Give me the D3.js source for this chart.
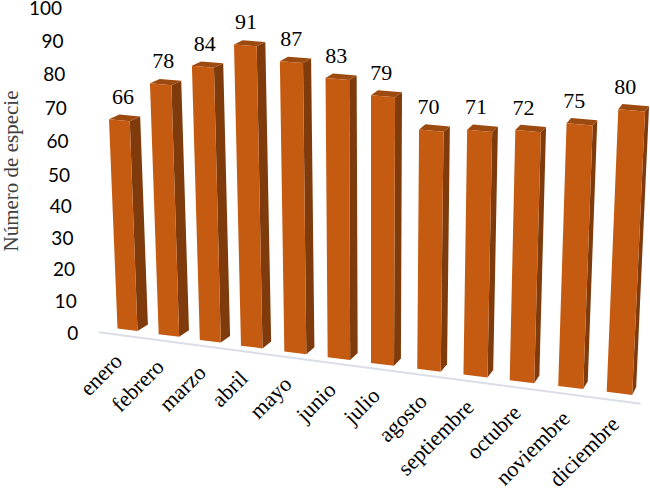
<!DOCTYPE html>
<html>
<head>
<meta charset="utf-8">
<script src="https://cdn.jsdelivr.net/npm/d3@7/dist/d3.min.js"></script>
<style>
html,body{margin:0;padding:0;background:#fff;}
svg{display:block;}
</style>
</head>
<body>
<svg id="chart" width="650" height="490"></svg>
<script>
const categories = ["enero","febrero","marzo","abril","mayo","junio","julio","agosto","septiembre","octubre","noviembre","diciembre"];
const values = [66,78,84,91,87,83,79,70,71,72,75,80];
const yTicks = [0,10,20,30,40,50,60,70,80,90,100];
const yTitle = "Número de especie";

const W = 650, H = 490;
const svg = d3.select("#chart").attr("viewBox", `0 0 ${W} ${H}`);
const last = categories.length - 1;

// Perspective scales of the tilted 3D chart, driven by the category index
const baseX = d3.scaleLinear().domain([0,3,6,9,11]).range([117.5,241,371,509.7,606.7]);
const baseY = d3.scaleLinear().domain([0,last]).range([328.5,391.7]);
const unitY = d3.scaleLinear().domain([0,3,6,11]).range([3.17,3.31,3.39,3.53]);
const leanX = d3.scaleLinear().domain([0,3,6,9,11]).range([-0.129,-0.077,0,0.078,0.145]);
const frontW = d3.scaleLinear().domain([0,last]).range([20,25.5]);
const depthX = d3.scaleLinear().domain([0,last]).range([10.4,4]);
const depthY0 = d3.scaleLinear().domain([0,last]).range([-6.4,-8]);
const depthY1 = d3.scaleLinear().domain([0,last]).range([-3.8,-4.6]);
const labelDx = d3.scaleLinear().domain([0,last]).range([14,7]);
const catDx = d3.scaleLinear().domain([0,last]).range([-4,1]);

// Tilted value axis labels
const tickY = d3.scaleLinear().domain([0,50,100]).range([333,175,8]);
const tickX = d3.scaleLinear().domain([0,100]).range([78.3,62]);

function project(i, v, side) {
  const t = v / 100;
  const w = frontW(i) * (1 + 0.06 * t);
  const x = baseX(i) + leanX(i) * v + side * w;
  const y = baseY(i) - unitY(i) * v + side * w * (0.125 - 0.05 * t);
  return [x, y];
}
function back(p, i, v) {
  const t = v / 100;
  return [p[0] + depthX(i), p[1] + depthY0(i) + (depthY1(i) - depthY0(i)) * t];
}
const line = d3.line();

// floor line
const floor = d3.scaleLinear().domain([0,last]).range([6.3,8]);
svg.append("line")
  .attr("x1", baseX(-0.45)).attr("y1", baseY(-0.45) + floor(-0.45))
  .attr("x2", baseX(11.7)).attr("y2", baseY(11.7) + floor(11.7))
  .attr("stroke", "#D9DEE7").attr("stroke-width", 2);

const bars = svg.append("g").selectAll("g").data(values).join("g");

bars.append("path") // side
  .attr("fill", "#7F3B0B")
  .attr("d", (v,i) => {
    const a = project(i,v,1), b = project(i,0,1);
    return line([a, back(a,i,v), back(b,i,0), b]) + "Z";
  });
bars.append("path") // top
  .attr("fill", "#9C4A10")
  .attr("d", (v,i) => {
    const a = project(i,v,0), b = project(i,v,1);
    return line([a, b, back(b,i,v), back(a,i,v)]) + "Z";
  });
bars.append("path") // front
  .attr("fill", "#C55A11")
  .attr("d", (v,i) => line([project(i,v,0), project(i,v,1), project(i,0,1), project(i,0,0)]) + "Z");

// data labels
bars.append("text")
  .attr("x", (v,i) => project(i,v,0)[0] + labelDx(i))
  .attr("y", (v,i) => project(i,v,0)[1] - 23)
  .attr("dy", "0.35em")
  .attr("text-anchor", "middle")
  .attr("font-family", "'Liberation Serif', serif")
  .attr("font-size", 22)
  .attr("fill", "#000")
  .text(v => v);

// value axis labels
svg.append("g").selectAll("text").data(yTicks).join("text")
  .attr("x", d => tickX(d))
  .attr("y", d => tickY(d))
  .attr("dy", "0.35em")
  .attr("text-anchor", "end")
  .attr("font-family", "Lato, sans-serif")
  .attr("font-size", 19)
  .attr("fill", "#000")
  .text(d => d);

// category labels
svg.append("g").selectAll("text").data(categories).join("text")
  .attr("transform", (d,i) => {
    const x = baseX(i) + frontW(i) / 2 + catDx(i);
    const y = baseY(i) + 34;
    return `translate(${x},${y}) rotate(-45)`;
  })
  .attr("text-anchor", "end")
  .attr("font-family", "'Liberation Serif', serif")
  .attr("font-size", 22)
  .attr("fill", "#000")
  .text(d => d);

// axis title
svg.append("text")
  .attr("transform", "translate(18,171) rotate(-90)")
  .attr("text-anchor", "middle")
  .attr("font-family", "'Liberation Serif', serif")
  .attr("font-size", 21)
  .attr("fill", "#404040")
  .text(yTitle);
</script>
</body>
</html>
